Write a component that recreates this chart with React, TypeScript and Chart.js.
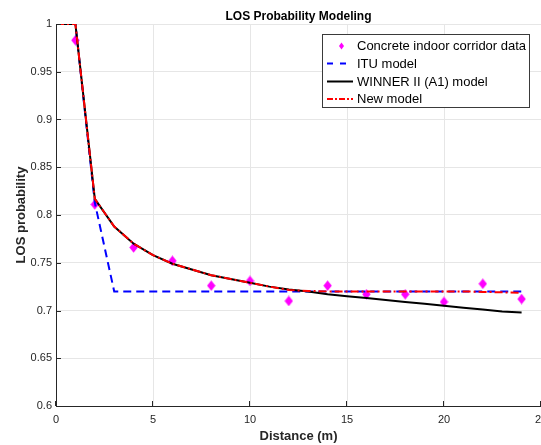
import React, { useEffect, useRef } from 'react';
import { Chart, registerables } from 'chart.js';

Chart.register(...registerables);

const TITLE = 'LOS Probability Modeling';
const X_LABEL = 'Distance (m)';
const Y_LABEL = 'LOS probability';

const legendLabels = [
  'Concrete indoor corridor data',
  'ITU model',
  'WINNER II (A1) model',
  'New model',
];

const measuredDistance = [1, 2, 4, 6, 8, 10, 12, 14, 16, 18, 20, 22, 24];
const measuredLOS = [0.983, 0.811, 0.766, 0.752, 0.726, 0.731, 0.71, 0.726, 0.717, 0.717, 0.709, 0.728, 0.712];

const modelDistance = [0, 1, 2, 3, 4, 5, 6, 7, 8, 9, 10, 11, 12, 13, 14, 15, 16, 17, 18, 19, 20, 21, 22, 23, 24];
const ituLOS = [1, 1, 0.813, 0.72, 0.72, 0.72, 0.72, 0.72, 0.72, 0.72, 0.72, 0.72, 0.72, 0.72, 0.72, 0.72, 0.72, 0.72, 0.72, 0.72, 0.72, 0.72, 0.72, 0.72, 0.72];
const winnerLOS = [1, 1, 0.817, 0.788, 0.77, 0.758, 0.749, 0.743, 0.737, 0.733, 0.729, 0.725, 0.722, 0.72, 0.717, 0.715, 0.713, 0.711, 0.709, 0.707, 0.705, 0.703, 0.701, 0.699, 0.698];
const newModelLOS = [1, 1, 0.817, 0.788, 0.77, 0.758, 0.749, 0.743, 0.737, 0.733, 0.729, 0.725, 0.7215, 0.7205, 0.72, 0.72, 0.72, 0.72, 0.72, 0.72, 0.72, 0.72, 0.7195, 0.719, 0.7185];

const xTicks = [0, 5, 10, 15, 20, 25];
const xTickLabels = ['0', '5', '10', '15', '20', '25'];
const yTicks = [0.6, 0.65, 0.7, 0.75, 0.8, 0.85, 0.9, 0.95, 1];
const yTickLabels = ['0.6', '0.65', '0.7', '0.75', '0.8', '0.85', '0.9', '0.95', '1'];

const FONT = '"Liberation Sans", Arial, Helvetica, sans-serif';
const AXIS_COLOR = '#262626';
const GRID_COLOR = '#e6e6e6';

function makeDiamond(w: number, h: number, color: string) {
  const c = document.createElement('canvas');
  c.width = w;
  c.height = h;
  const ctx = c.getContext('2d')!;
  ctx.fillStyle = color;
  ctx.beginPath();
  ctx.moveTo(w / 2, 0.3);
  ctx.lineTo(w - 0.3, h / 2);
  ctx.lineTo(w / 2, h - 0.3);
  ctx.lineTo(0.3, h / 2);
  ctx.closePath();
  ctx.fill();
  return c;
}

const decorPlugin = {
  id: 'decor',
  afterDraw(chart: any) {
    const ctx = chart.ctx as CanvasRenderingContext2D;
    const area = chart.chartArea;
    const xs = chart.scales.x;
    const ys = chart.scales.y;
    ctx.save();
    // inward ticks
    ctx.strokeStyle = AXIS_COLOR;
    ctx.lineWidth = 1;
    ctx.setLineDash([]);
    ctx.beginPath();
    yTicks.forEach((v) => {
      const y = Math.round(ys.getPixelForValue(v)) + 0.5;
      ctx.moveTo(area.left, y);
      ctx.lineTo(area.left + 5, y);
    });
    xTicks.forEach((v) => {
      const x = Math.round(xs.getPixelForValue(v)) - 0.5;
      ctx.moveTo(x, area.bottom);
      ctx.lineTo(x, area.bottom - 5);
    });
    ctx.stroke();

    // x tick labels
    ctx.fillStyle = AXIS_COLOR;
    ctx.textAlign = 'center';
    ctx.textBaseline = 'alphabetic';
    ctx.font = `11px ${FONT}`;
    xTicks.forEach((v, i) => {
      ctx.fillText(xTickLabels[i], xs.getPixelForValue(v), 423);
    });

    // title
    const cx = (area.left + area.right) / 2;
    ctx.fillStyle = '#000';
    ctx.font = `bold 12px ${FONT}`;
    ctx.fillText(TITLE, cx, 20);

    // axis titles
    ctx.fillStyle = AXIS_COLOR;
    ctx.font = `bold 13px ${FONT}`;
    ctx.fillText(X_LABEL, cx, 440);
    ctx.save();
    ctx.translate(25, (area.top + area.bottom) / 2);
    ctx.rotate(-Math.PI / 2);
    ctx.fillText(Y_LABEL, 0, 0);
    ctx.restore();

    // legend
    const bx = 322.5, by = 34.5, bw = 207, bh = 73;
    ctx.fillStyle = '#fff';
    ctx.fillRect(bx, by, bw, bh);
    ctx.strokeStyle = '#3a3a3a';
    ctx.lineWidth = 1;
    ctx.strokeRect(bx, by, bw, bh);
    const rows = [46, 63.5, 81.5, 99];
    const sx0 = 327, sx1 = 353;
    ctx.fillStyle = '#ff00ff';
    ctx.beginPath();
    ctx.moveTo(341.5, rows[0] - 3.5);
    ctx.lineTo(344, rows[0]);
    ctx.lineTo(341.5, rows[0] + 3.5);
    ctx.lineTo(339, rows[0]);
    ctx.closePath();
    ctx.fill();
    ctx.lineWidth = 2;
    ctx.strokeStyle = '#0000ff';
    ctx.setLineDash([6, 7]);
    ctx.beginPath();
    ctx.moveTo(sx0, rows[1]);
    ctx.lineTo(347, rows[1]);
    ctx.stroke();
    ctx.strokeStyle = '#000';
    ctx.setLineDash([]);
    ctx.beginPath();
    ctx.moveTo(sx0, rows[2]);
    ctx.lineTo(sx1, rows[2]);
    ctx.stroke();
    ctx.strokeStyle = '#ff0000';
    ctx.setLineDash([6, 2, 2, 2]);
    ctx.beginPath();
    ctx.moveTo(sx0, rows[3]);
    ctx.lineTo(sx1, rows[3]);
    ctx.stroke();
    ctx.setLineDash([]);
    ctx.fillStyle = '#000';
    ctx.textAlign = 'left';
    ctx.textBaseline = 'middle';
    ctx.font = `13px ${FONT}`;
    legendLabels.forEach((t, i) => ctx.fillText(t, 357, rows[i] + 0.5));
    ctx.restore();
  },
};

export default function App() {
  const ref = useRef<HTMLCanvasElement | null>(null);

  useEffect(() => {
    document.body.style.margin = '0';
    const canvas = ref.current;
    if (!canvas) return;
    const diamond = makeDiamond(9, 11, '#ff00ff');
    const toXY = (xsArr: number[], ysArr: number[]) => xsArr.map((x, i) => ({ x, y: ysArr[i] }));

    const chart = new Chart(canvas, {
      type: 'line',
      data: {
        datasets: [
          {
            label: legendLabels[0],
            data: toXY(measuredDistance, measuredLOS),
            showLine: false,
            pointStyle: diamond as any,
            pointRadius: 5,
            pointHoverRadius: 5,
            borderColor: '#ff00ff',
            backgroundColor: '#ff00ff',
            order: 3,
          },
          {
            label: legendLabels[1],
            data: toXY(modelDistance, ituLOS),
            borderColor: '#0000ff',
            borderWidth: 2,
            borderDash: [8, 5],
            pointRadius: 0,
            pointHoverRadius: 0,
            fill: false,
            tension: 0,
            order: 2,
          },
          {
            label: legendLabels[2],
            data: toXY(modelDistance, winnerLOS),
            borderColor: '#000000',
            borderWidth: 2,
            pointRadius: 0,
            pointHoverRadius: 0,
            fill: false,
            tension: 0,
            order: 1,
          },
          {
            label: legendLabels[3],
            data: toXY(modelDistance, newModelLOS),
            borderColor: '#ff0000',
            borderWidth: 2,
            borderDash: [8, 3, 2, 3],
            pointRadius: 0,
            pointHoverRadius: 0,
            fill: false,
            tension: 0,
            order: 0,
          },
        ],
      },
      options: {
        responsive: false,
        animation: false,
        events: [],
        layout: { autoPadding: false, padding: { top: 24, left: 0, right: 0, bottom: 0 } },
        plugins: {
          legend: { display: false },
          title: { display: false },
          tooltip: { enabled: false },
        },
        scales: {
          x: {
            type: 'linear',
            min: 0,
            max: 25,
            afterBuildTicks: (s: any) => {
              s.ticks = xTicks.map((v) => ({ value: v }));
            },
            afterFit: (s: any) => {
              s.height = 39;
              s.paddingLeft = 0;
              s.paddingRight = 0;
            },
            ticks: { display: false },
            grid: { color: GRID_COLOR, drawTicks: false, lineWidth: 1 },
            border: { display: true, color: AXIS_COLOR, width: 1 },
          },
          y: {
            type: 'linear',
            min: 0.6,
            max: 1,
            afterBuildTicks: (s: any) => {
              s.ticks = yTicks.map((v) => ({ value: v }));
            },
            afterFit: (s: any) => {
              s.width = 56;
              s.paddingTop = 0;
              s.paddingBottom = 0;
            },
            ticks: {
              autoSkip: false,
              padding: 4,
              color: AXIS_COLOR,
              font: { family: FONT, size: 11 },
              callback: (_v: any, i: number) => yTickLabels[i],
            },
            grid: { color: GRID_COLOR, drawTicks: false, lineWidth: 1 },
            border: { display: true, color: AXIS_COLOR, width: 1 },
          },
        },
      },
      plugins: [decorPlugin],
    });
    return () => chart.destroy();
  }, []);

  return <canvas ref={ref} width={541} height={445} style={{ display: 'block' }} />;
}
